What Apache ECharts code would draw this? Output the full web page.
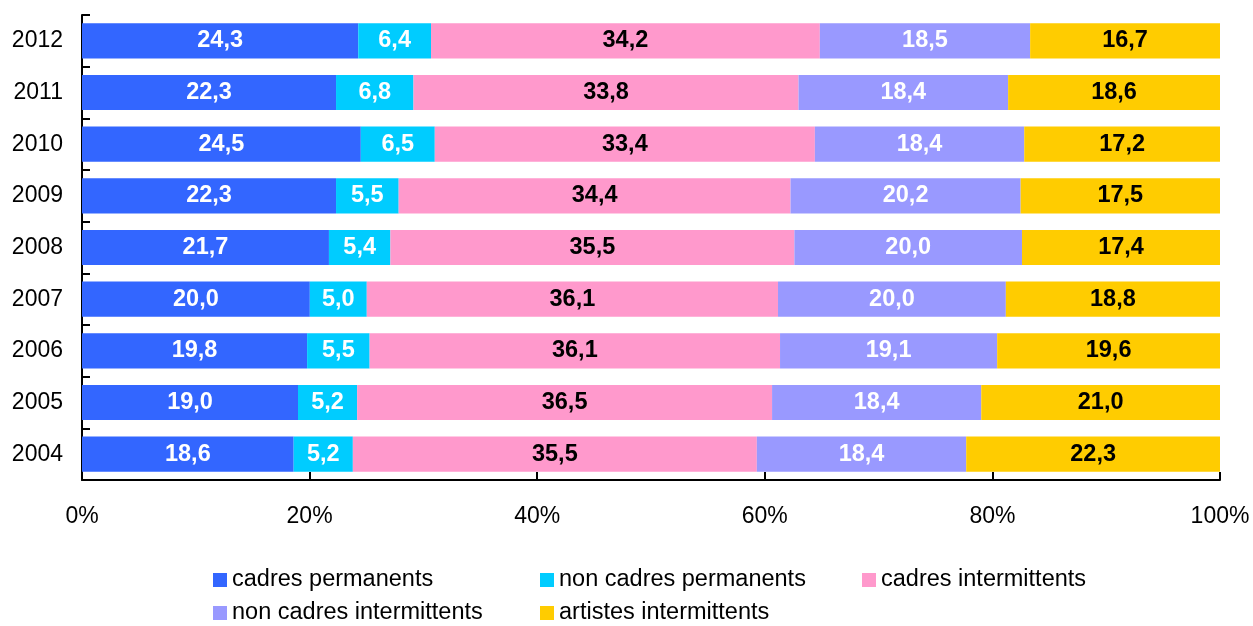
<!DOCTYPE html>
<html>
<head>
<meta charset="utf-8">
<script src="https://cdn.jsdelivr.net/npm/echarts@6/dist/echarts.min.js"></script>
<style>
  html, body { margin: 0; padding: 0; background: #fff; }
  #chart { width: 1253px; height: 626px; }
</style>
</head>
<body>
<div id="chart"></div>
<script>
// années (de bas en haut)
const years = ["2004", "2005", "2006", "2007", "2008", "2009", "2010", "2011", "2012"];

const cadresPermanents = [18.6, 19.0, 19.8, 20.0, 21.7, 22.3, 24.5, 22.3, 24.3];
const nonCadresPermanents = [5.2, 5.2, 5.5, 5.0, 5.4, 5.5, 6.5, 6.8, 6.4];
const cadresIntermittents = [35.5, 36.5, 36.1, 36.1, 35.5, 34.4, 33.4, 33.8, 34.2];
const nonCadresIntermittents = [18.4, 18.4, 19.1, 20.0, 20.0, 20.2, 18.4, 18.4, 18.5];
const artistesIntermittents = [22.3, 21.0, 19.6, 18.8, 17.4, 17.5, 17.2, 18.6, 16.7];

const groups = [
  { name: "cadres permanents", data: cadresPermanents, color: "#3366FF", label: "#fff" },
  { name: "non cadres permanents", data: nonCadresPermanents, color: "#00CCFF", label: "#fff" },
  { name: "cadres intermittents", data: cadresIntermittents, color: "#FF99CC", label: "#000" },
  { name: "non cadres intermittents", data: nonCadresIntermittents, color: "#9999FF", label: "#fff" },
  { name: "artistes intermittents", data: artistesIntermittents, color: "#FFCC00", label: "#000" }
];

// total par année pour le 100% empilé
const totals = years.map((y, i) => groups.reduce((s, g) => s + g.data[i], 0));

// position de chaque entrée de légende (grille 3 colonnes)
const legendPos = [[213, 568], [540, 568], [862, 568], [213, 601], [540, 601]];

const chart = echarts.init(document.getElementById("chart"));

const option = {
  animation: false,
  textStyle: { fontFamily: "Liberation Sans, Arial, sans-serif" },
  grid: { left: 82, right: 33, top: 15, bottom: 146 },
  legend: groups.map((g, i) => ({
    left: legendPos[i][0],
    top: legendPos[i][1],
    padding: 0,
    itemWidth: 14,
    itemHeight: 14,
    icon: "rect",
    textStyle: { fontSize: 23.5, color: "#000" },
    data: [g.name]
  })),
  xAxis: {
    type: "value",
    min: 0,
    max: 100,
    interval: 20,
    axisLine: { show: true, lineStyle: { color: "#000", width: 2 } },
    axisTick: { show: true, inside: true, length: 8, lineStyle: { color: "#000", width: 2 } },
    splitLine: { show: false },
    axisLabel: { formatter: "{value}%", fontSize: 23, color: "#000", margin: 25 }
  },
  yAxis: {
    type: "category",
    data: years,
    axisLine: { show: true, lineStyle: { color: "#000", width: 2 } },
    axisTick: { show: true, inside: true, length: 8, lineStyle: { color: "#000", width: 2 } },
    axisLabel: { fontSize: 23, color: "#000", margin: 19 }
  },
  series: groups.map(g => ({
    name: g.name,
    type: "bar",
    stack: "total",
    barCategoryGap: "32%",
    itemStyle: { color: g.color },
    label: {
      show: true,
      position: "inside",
      color: g.label,
      fontSize: 23.5,
      fontWeight: "bold",
      formatter: p => p.data.raw.toFixed(1).replace(".", ",")
    },
    data: g.data.map((v, i) => ({ value: v / totals[i] * 100, raw: v }))
  }))
};

chart.setOption(option);
</script>
</body>
</html>
